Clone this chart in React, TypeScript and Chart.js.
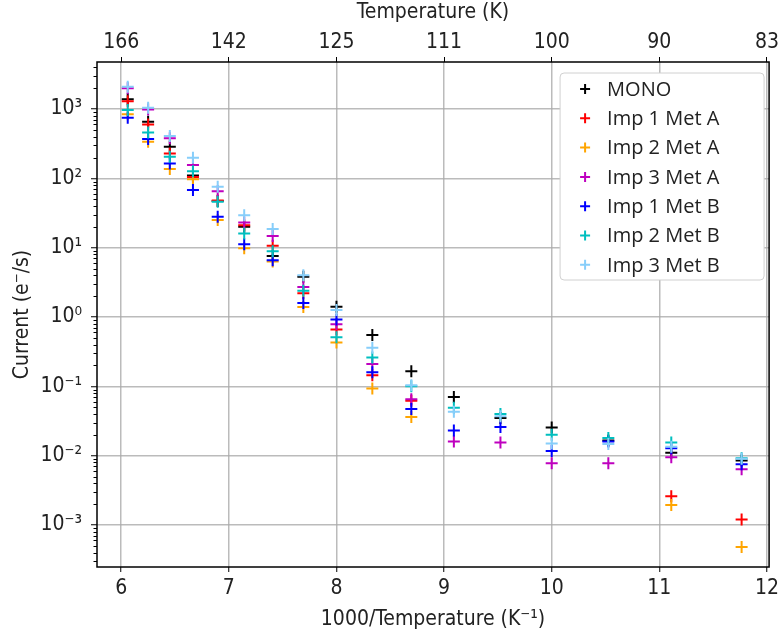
import React, { useEffect, useRef } from 'react';
import { Chart, registerables } from 'chart.js';

Chart.register(...registerables);

// Temperatures (K) at which each column was measured; the x axis is 1000/T
const temperaturesK = [165, 160, 155, 150, 145, 140, 135, 130, 125, 120, 115, 110, 105, 100, 95, 90, 85];

const seriesNames = ['MONO', 'Imp 1 Met A', 'Imp 2 Met A', 'Imp 3 Met A', 'Imp 1 Met B', 'Imp 2 Met B', 'Imp 3 Met B'];
const seriesColors = ['#000000', '#ff0000', '#ffa500', '#bf00bf', '#0000ff', '#00bfbf', '#87cefa'];

// Current (e-/s), one value per temperature (null = not measured)
const mono = [1390, 655, 286, 110, 47, 20, 7.6, 3.8, 1.41, 0.55, 0.165, 0.07, 0.035, 0.0255, 0.0165, 0.011, 0.0085];
const imp1MetA = [1300, 600, 229, 105, 48, 21, 10.7, 2.2, 0.66, 0.145, 0.062, null, null, null, null, 0.0026, 0.0012];
const imp2MetA = [840, 338, 136, 97, 25, 9.8, 6.3, 1.4, 0.43, 0.093, 0.036, null, null, null, null, 0.00194, 0.00048];
const imp3MetA = [2000, 985, 378, 156, 65, 23, 14.8, 2.7, 0.79, 0.21, 0.065, 0.016, 0.0155, 0.0078, 0.0078, 0.0095, 0.0064];
const imp1MetB = [750, 370, 164, 68, 28, 11.2, 6.6, 1.6, 0.92, 0.16, 0.047, 0.023, 0.026, 0.0117, 0.016, 0.0128, 0.0075];
const imp2MetB = [970, 460, 205, 127, 46, 16, 8.9, 2.4, 0.51, 0.26, 0.1, 0.049, 0.04, 0.02, 0.018, 0.0155, 0.0092];
const imp3MetB = [2100, 1040, 410, 198, 76, 29.5, 18.6, 4.0, 1.26, 0.36, 0.104, 0.043, 0.037, 0.015, 0.0148, 0.0135, 0.009];

const seriesValues = [mono, imp1MetA, imp2MetA, imp3MetA, imp1MetB, imp2MetB, imp3MetB];

const xTicks = [6, 7, 8, 9, 10, 11, 12];
const yDecades = [-3, -2, -1, 0, 1, 2, 3];
const xMin = 5.775;
const xMax = 12.02;
const yMin = 2.48e-4;
const yMax = 4770;

const AXIS_FONT = "'DejaVu Sans Condensed', 'DejaVu Sans', sans-serif";
const LEGEND_FONT = "'Open Sans', 'Noto Sans', sans-serif";

const SUP: Record<string, string> = {
  '-': '\u207B', '0': '\u2070', '1': '\u00B9', '2': '\u00B2', '3': '\u00B3',
  '4': '\u2074', '5': '\u2075', '6': '\u2076', '7': '\u2077', '8': '\u2078', '9': '\u2079',
};
const sup = (s: string) => s.split('').map((c) => SUP[c] || c).join('');

const minorTicksPlugin = {
  id: 'minorTicks',
  afterDraw(chart: any) {
    const y = chart.scales.y;
    const { ctx, chartArea } = chart;
    ctx.save();
    ctx.strokeStyle = '#000';
    ctx.lineWidth = 1;
    for (let e = -4; e <= 3; e++) {
      for (let k = 2; k <= 9; k++) {
        const v = k * Math.pow(10, e);
        if (v < yMin || v > yMax) continue;
        const py = Math.round(y.getPixelForValue(v)) + 0.5;
        ctx.beginPath();
        ctx.moveTo(chartArea.left - 3.5, py);
        ctx.lineTo(chartArea.left, py);
        ctx.stroke();
      }
    }
    ctx.restore();
  },
};

const framePlugin = {
  id: 'frame',
  afterDraw(chart: any) {
    const { ctx, chartArea } = chart;
    ctx.save();
    ctx.strokeStyle = '#000';
    ctx.lineWidth = 1.5;
    ctx.strokeRect(chartArea.left, chartArea.top, chartArea.right - chartArea.left, chartArea.bottom - chartArea.top);
    ctx.restore();
  },
};

const legendPlugin = {
  id: 'insideLegend',
  afterDraw(chart: any) {
    const { ctx, chartArea } = chart;
    const left = chartArea.right - 209;
    const top = chartArea.top + 11;
    const w = 204;
    const h = 207;
    ctx.save();
    ctx.beginPath();
    const r = 4;
    ctx.moveTo(left + r, top);
    ctx.lineTo(left + w - r, top);
    ctx.quadraticCurveTo(left + w, top, left + w, top + r);
    ctx.lineTo(left + w, top + h - r);
    ctx.quadraticCurveTo(left + w, top + h, left + w - r, top + h);
    ctx.lineTo(left + r, top + h);
    ctx.quadraticCurveTo(left, top + h, left, top + h - r);
    ctx.lineTo(left, top + r);
    ctx.quadraticCurveTo(left, top, left + r, top);
    ctx.closePath();
    ctx.fillStyle = '#ffffff';
    ctx.fill();
    ctx.strokeStyle = '#d0d0d0';
    ctx.lineWidth = 1;
    ctx.stroke();
    chart.data.datasets.forEach((ds: any, i: number) => {
      const cy = top + 16 + i * 29.3;
      const cx = left + 25;
      ctx.strokeStyle = ds.borderColor;
      ctx.lineWidth = 2;
      ctx.beginPath();
      ctx.moveTo(cx - 5, cy);
      ctx.lineTo(cx + 5, cy);
      ctx.moveTo(cx, cy - 5);
      ctx.lineTo(cx, cy + 5);
      ctx.stroke();
      ctx.fillStyle = '#222';
      ctx.font = `20px ${LEGEND_FONT}`;
      ctx.textBaseline = 'middle';
      ctx.textAlign = 'left';
      ctx.fillText(ds.label, left + 47, cy + 1);
    });
    ctx.restore();
  },
};

export default function App() {
  const canvasRef = useRef<HTMLCanvasElement | null>(null);

  useEffect(() => {
    document.body.style.margin = '0';
    const canvas = canvasRef.current;
    if (!canvas) return;

    const datasets = seriesNames.map((name, i) => ({
      label: name,
      data: temperaturesK
        .map((t, j) => ({ x: 1000 / t, y: seriesValues[i][j] }))
        .filter((p) => p.y !== null),
      borderColor: seriesColors[i],
      backgroundColor: seriesColors[i],
      pointStyle: 'cross',
      pointRadius: 6,
      pointHoverRadius: 6,
      pointBorderWidth: 2,
      showLine: false,
      order: seriesNames.length - i,
    }));

    const chart = new Chart(canvas, {
      type: 'scatter',
      data: { datasets },
      options: {
        animation: false,
        responsive: false,
        events: [],
        layout: { padding: { left: 0, right: 9, top: 0, bottom: 0 } },
        plugins: { legend: { display: false }, tooltip: { enabled: false } },
        scales: {
          x: {
            type: 'linear',
            position: 'bottom',
            min: xMin,
            max: xMax,
            afterBuildTicks: (s: any) => { s.ticks = xTicks.map((v) => ({ value: v })); },
            afterFit: (s: any) => { s.height = 70; },
            ticks: { color: '#222', font: { size: 21, family: AXIS_FONT }, padding: 4, maxRotation: 0, autoSkip: false },
            grid: { color: 'rgba(170,170,170,0.8)', lineWidth: 1.5, tickColor: '#000', tickLength: 5, tickWidth: 1 },
            border: { display: false },
            title: {
              display: true,
              text: '1000/Temperature (K\u207B\u00B9)',
              color: '#222',
              font: { size: 21, family: AXIS_FONT },
              padding: { top: 4, bottom: 5 },
            },
          },
          x2: {
            type: 'linear',
            position: 'top',
            min: xMin,
            max: xMax,
            afterBuildTicks: (s: any) => { s.ticks = xTicks.map((v) => ({ value: v })); },
            afterFit: (s: any) => { s.height = 62; },
            ticks: {
              color: '#222',
              font: { size: 21, family: AXIS_FONT },
              padding: 2,
              maxRotation: 0,
              autoSkip: false,
              callback: (v: any) => String(Math.trunc(1000 / Number(v))),
            },
            grid: { drawOnChartArea: false, tickColor: '#000', tickLength: 5, tickWidth: 1 },
            border: { display: false },
            title: {
              display: true,
              text: 'Temperature (K)',
              color: '#222',
              font: { size: 21, family: AXIS_FONT },
              padding: { top: 0, bottom: 0 },
            },
          },
          y: {
            type: 'logarithmic',
            position: 'left',
            min: yMin,
            max: yMax,
            afterBuildTicks: (s: any) => { s.ticks = yDecades.map((e) => ({ value: Math.pow(10, e), major: true })); },
            afterFit: (s: any) => { s.width = 97; },
            ticks: {
              color: '#222',
              font: { size: 21, family: AXIS_FONT },
              padding: 9,
              autoSkip: false,
              callback: (v: any) => '10' + sup(String(Math.round(Math.log10(Number(v))))),
            },
            grid: { color: 'rgba(170,170,170,0.8)', lineWidth: 1.5, tickColor: '#000', tickLength: 6, tickWidth: 1 },
            border: { display: false },
            title: {
              display: true,
              text: 'Current (e\u207B/s)',
              color: '#222',
              font: { size: 21, family: AXIS_FONT },
              padding: { top: 10, bottom: 4 },
            },
          },
        },
      },
      plugins: [minorTicksPlugin, framePlugin, legendPlugin],
    } as any);

    return () => chart.destroy();
  }, []);

  return (
    <div style={{ width: 783, height: 637, background: '#fff' }}>
      <canvas ref={canvasRef} width={783} height={637} style={{ display: 'block' }} />
    </div>
  );
}
